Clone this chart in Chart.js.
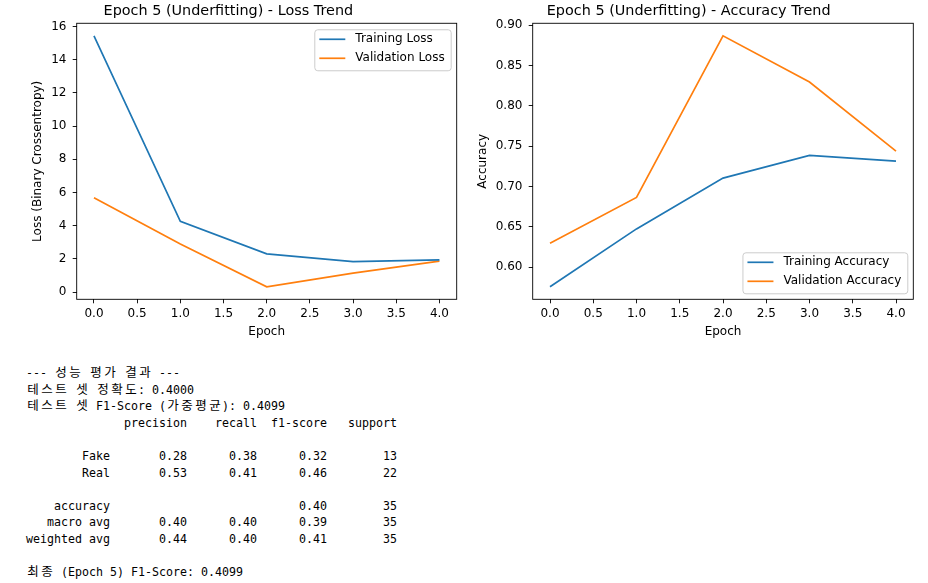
<!DOCTYPE html>
<html lang="ko">
<head>
    <meta charset="UTF-8">
    <title>Epoch 5 (Underfitting) - Loss / Accuracy Trend</title>
    <script src="https://cdn.jsdelivr.net/npm/chart.js"></script>
    <style>
        html, body { margin: 0; padding: 0; background: #fff; }
        body { width: 928px; height: 583px; position: relative; overflow: hidden; }
        .chart-box { position: absolute; top: 0; width: 464px; height: 345px; }
        #lossBox { left: 0; }
        #accBox { left: 464px; }
        #report {
            position: absolute; left: 26px; top: 365px; margin: 0;
            font-family: "DejaVu Sans Mono", monospace;
            font-size: 11.63px; color: #000;
        }
        #report .line { height: 16.6px; line-height: 16.6px; white-space: pre; }
        #report .k {
            display: inline-block; width: 14px; text-align: center; line-height: 1;
            font-family: "Noto Sans CJK KR", sans-serif; font-size: 12.5px;
        }
    </style>
</head>

<body>
    <div class="chart-box" id="lossBox"><canvas id="lossChart"></canvas></div>
    <div class="chart-box" id="accBox"><canvas id="accChart"></canvas></div>
    <div id="report"></div>

    <script>
        // values
        var epochs = [0, 1, 2, 3, 4];
        var trainLoss = [15.44, 4.26, 2.30, 1.84, 1.94];
        var valLoss = [5.68, 2.90, 0.32, 1.14, 1.86];
        var trainAcc = [0.5758, 0.6475, 0.7105, 0.7385, 0.7315];
        var valAcc = [0.6297, 0.6865, 0.8868, 0.8295, 0.7438];

        var xTicks = [0, 0.5, 1, 1.5, 2, 2.5, 3, 3.5, 4];
        var lossTicks = [0, 2, 4, 6, 8, 10, 12, 14, 16];
        var accTicks = [0.60, 0.65, 0.70, 0.75, 0.80, 0.85, 0.90];

        var reportLines = [
            "--- 성능 평가 결과 ---",
            "테스트 셋 정확도: 0.4000",
            "테스트 셋 F1-Score (가중평균): 0.4099",
            "              precision    recall  f1-score   support",
            "",
            "        Fake       0.28      0.38      0.32        13",
            "        Real       0.53      0.41      0.46        22",
            "",
            "    accuracy                           0.40        35",
            "   macro avg       0.40      0.40      0.39        35",
            "weighted avg       0.44      0.40      0.41        35",
            "",
            "최종 (Epoch 5) F1-Score: 0.4099"
        ];

        var BLUE = "#1f77b4";
        var ORANGE = "#ff7f0e";
        var FONT = "'DejaVu Sans', sans-serif";

        // matplotlib-like frame on all four sides plus a legend inside the axes
        var framePlugin = {
            id: "frame",
            afterDraw: function (chart, args, opts) {
                var ctx = chart.ctx;
                var a = chart.chartArea;
                ctx.save();

                ctx.font = "12px " + FONT;
                var sets = chart.data.datasets;
                var textW = 0;
                sets.forEach(function (d) { textW = Math.max(textW, ctx.measureText(d.label).width); });
                var w = 41 + textW + 6;
                var h = 22 + (sets.length - 1) * 19;
                var bx = a.right - 6 - w;
                var by = opts.corner === "lower right" ? a.bottom - 6 - h : a.top + 6;

                ctx.beginPath();
                ctx.roundRect(bx + 0.5, by + 0.5, w, h, 3);
                ctx.fillStyle = "rgba(255,255,255,0.8)";
                ctx.fill();
                ctx.strokeStyle = "#cccccc";
                ctx.lineWidth = 1;
                ctx.stroke();

                sets.forEach(function (d, i) {
                    var cy = by + 10 + i * 19;
                    ctx.beginPath();
                    ctx.moveTo(bx + 5, cy);
                    ctx.lineTo(bx + 31, cy);
                    ctx.strokeStyle = d.borderColor;
                    ctx.lineWidth = 1.7;
                    ctx.stroke();
                    ctx.fillStyle = "#000";
                    ctx.textBaseline = "middle";
                    ctx.fillText(d.label, bx + 41, cy);
                });

                ctx.strokeStyle = "#000";
                ctx.lineWidth = 0.9;
                ctx.strokeRect(a.left, a.top, a.right - a.left, a.bottom - a.top);
                ctx.restore();
            }
        };

        function makeChart(id, title, yLabel, sets, yTicks, digits, box) {
            var all = [];
            sets.forEach(function (s) { all = all.concat(s.values); });
            var lo = Math.min.apply(null, all), hi = Math.max.apply(null, all);
            var m = (hi - lo) * 0.05;

            var tickFont = { family: FONT, size: 12 };
            var gridOpts = {
                display: true, drawOnChartArea: false, drawTicks: true,
                tickLength: 4, tickWidth: 0.9, tickColor: "#000", color: "#000"
            };

            return new Chart(document.getElementById(id), {
                type: "line",
                data: {
                    datasets: sets.map(function (s) {
                        return {
                            label: s.label,
                            data: epochs.map(function (e, i) { return { x: e, y: s.values[i] }; }),
                            borderColor: s.color,
                            backgroundColor: s.color,
                            borderWidth: 1.7,
                            pointRadius: 0,
                            tension: 0,
                            fill: false
                        };
                    })
                },
                options: {
                    responsive: true,
                    maintainAspectRatio: false,
                    animation: false,
                    events: [],
                    layout: { padding: { left: 0, right: box.right, top: 0, bottom: 0 } },
                    plugins: {
                        legend: { display: false },
                        tooltip: { enabled: false },
                        title: {
                            display: true, text: title, color: "#000",
                            font: { family: FONT, size: 14.4, weight: "normal" },
                            padding: { top: 2.8, bottom: 3.2 }
                        },
                        frame: { corner: box.corner }
                    },
                    scales: {
                        x: {
                            type: "linear", min: -0.2, max: 4.2,
                            afterBuildTicks: function (s) { s.ticks = xTicks.map(function (v) { return { value: v }; }); },
                            afterFit: function (s) { s.height = 45.7; },
                            ticks: { color: "#000", font: tickFont, padding: 3.5, maxRotation: 0,
                                callback: function (v) { return v.toFixed(1); } },
                            grid: gridOpts,
                            border: { display: false },
                            title: { display: true, text: "Epoch", color: "#000", font: tickFont,
                                padding: { top: 0, bottom: 6.1 } }
                        },
                        y: {
                            type: "linear", min: lo - m, max: hi + m,
                            afterBuildTicks: function (s) { s.ticks = yTicks.map(function (v) { return { value: v }; }); },
                            afterFit: function (s) { s.width = box.yWidth; },
                            ticks: { color: "#000", font: tickFont, padding: 6.3,
                                callback: function (v) { return v.toFixed(digits); } },
                            grid: gridOpts,
                            border: { display: false },
                            title: { display: true, text: yLabel, color: "#000", font: tickFont,
                                padding: { top: box.yTitlePad, bottom: 0 } }
                        }
                    }
                },
                plugins: [framePlugin]
            });
        }

        makeChart("lossChart", "Epoch 5 (Underfitting) - Loss Trend", "Loss (Binary Crossentropy)",
            [{ label: "Training Loss", values: trainLoss, color: BLUE },
             { label: "Validation Loss", values: valLoss, color: ORANGE }],
            lossTicks, 0, { right: 7.3, yWidth: 76.7, yTitlePad: 31.1, corner: "upper right" });

        makeChart("accChart", "Epoch 5 (Underfitting) - Accuracy Trend", "Accuracy",
            [{ label: "Training Accuracy", values: trainAcc, color: BLUE },
             { label: "Validation Accuracy", values: valAcc, color: ORANGE }],
            accTicks, 2, { right: 14.7, yWidth: 68.7, yTitlePad: 12.1, corner: "lower right" });

        // text report under the charts; one fixed-height row per line, Hangul takes two cells
        var report = document.getElementById("report");
        reportLines.forEach(function (line) {
            var row = document.createElement("div");
            row.className = "line";
            for (var i = 0; i < line.length; i++) {
                var ch = line[i];
                if (/[\uAC00-\uD7A3]/.test(ch)) {
                    var span = document.createElement("span");
                    span.className = "k";
                    span.textContent = ch;
                    row.appendChild(span);
                } else {
                    row.appendChild(document.createTextNode(ch));
                }
            }
            report.appendChild(row);
        });
    </script>
</body>

</html>
